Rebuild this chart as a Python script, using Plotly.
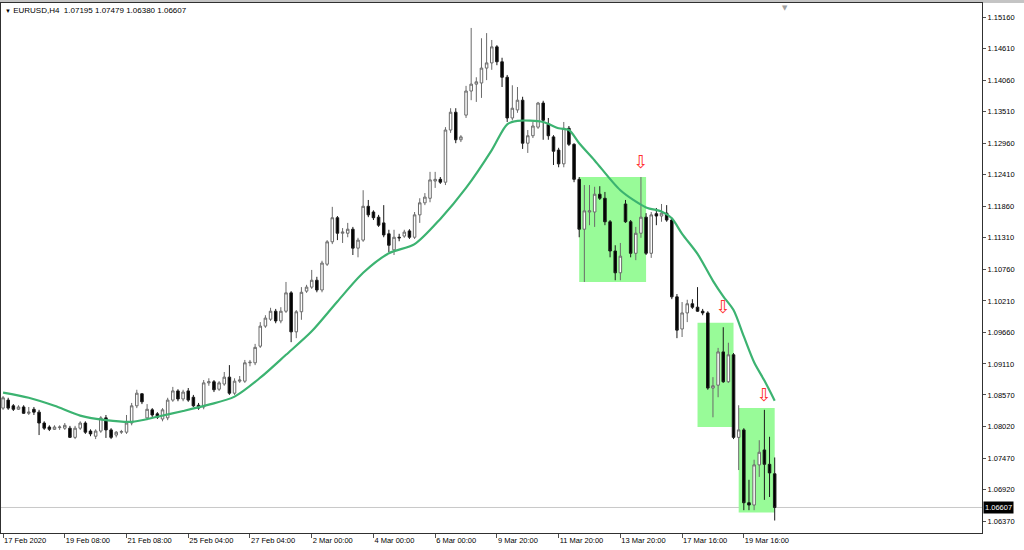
import plotly.graph_objects as go

# ---------------- data (EURUSD H4) ----------------
bar_index = list(range(151))

opens = [1.0834,1.0848,1.0838,1.0832,1.0836,1.0825,1.0832,1.0827,1.0808,1.0801,
         1.0797,1.0800,1.0799,1.0799,1.0783,1.0799,1.0808,1.0794,1.0785,1.0794,
         1.0817,1.0796,1.0787,1.0792,1.0792,1.0808,1.0838,1.0859,1.0817,1.0831,
         1.0824,1.0815,1.0817,1.0848,1.0864,1.0850,1.0864,1.0853,1.0839,1.0836,
         1.0878,1.0880,1.0867,1.0876,1.0888,1.0860,1.0881,1.0881,1.0913,1.0913,
         1.0942,1.0977,1.0989,1.1003,1.0986,1.1003,1.1035,1.0967,1.1002,1.1038,
         1.1045,1.1057,1.1040,1.1085,1.1124,1.1166,1.1139,1.1139,1.1146,1.1113,
         1.1127,1.1186,1.1176,1.1167,1.1157,1.1138,1.1110,1.1132,1.1134,1.1143,
         1.1132,1.1171,1.1192,1.1200,1.1230,1.1233,1.1228,1.1319,1.1350,1.1302,
         1.1345,1.1387,1.1399,1.1401,1.1427,1.1436,1.1464,1.1438,1.1411,1.1340,
         1.1354,1.1371,1.1296,1.1309,1.1324,1.1366,1.1329,1.1307,1.1284,1.1260,
         1.1322,1.1294,1.1233,1.1146,1.1176,1.1176,1.1207,1.1200,1.1159,1.1108,
         1.1070,1.1190,1.1159,1.1104,1.1139,1.1167,1.1104,1.1173,1.1169,1.1174,
         1.1162,1.1028,1.0972,1.1000,1.1016,1.1010,1.1003,1.1000,1.0869,1.0874,
         1.0932,1.0880,1.0927,1.0783,1.0796,1.0669,1.0665,1.0735,1.0761,1.0736,
         1.07195]

highs = [1.0855,1.0852,1.0841,1.0839,1.0839,1.0836,1.0836,1.0831,1.0811,1.0804,
         1.0804,1.0804,1.0808,1.0803,1.0803,1.0811,1.0811,1.0797,1.0797,1.0820,
         1.0822,1.0799,1.0794,1.0796,1.0822,1.0843,1.0866,1.0860,1.0841,1.0834,
         1.0827,1.0834,1.0852,1.0871,1.0867,1.0866,1.0869,1.0857,1.0843,1.0883,
         1.0886,1.0883,1.0881,1.0897,1.0909,1.0886,1.0890,1.0918,1.0918,1.0946,
         1.0984,1.0996,1.1009,1.1007,1.1010,1.1054,1.1038,1.1005,1.1045,1.1049,
         1.1075,1.1063,1.1091,1.1127,1.1185,1.1169,1.1148,1.1157,1.1150,1.1131,
         1.1214,1.1197,1.1179,1.1171,1.1188,1.1145,1.1145,1.1138,1.1145,1.1146,
         1.1176,1.1200,1.1209,1.1246,1.1246,1.1237,1.1324,1.1357,1.1357,1.1310,
         1.1396,1.1497,1.1411,1.1479,1.1488,1.1476,1.1467,1.1445,1.1415,1.1397,
         1.1394,1.1377,1.1319,1.1333,1.1368,1.1370,1.1340,1.1310,1.1288,1.1333,
         1.1326,1.1296,1.1237,1.1223,1.1223,1.1220,1.1221,1.1211,1.1162,1.1118,
         1.1122,1.1197,1.1162,1.1150,1.1237,1.1174,1.1176,1.1183,1.1190,1.1188,
         1.1166,1.1033,1.1019,1.1023,1.1024,1.1045,1.1007,1.1003,1.0888,1.0939,
         1.0975,1.0948,1.0930,1.0839,1.0799,1.0709,1.0744,1.0778,1.0831,1.0784,
         1.07479]

lows = [1.0831,1.0831,1.0829,1.0831,1.0824,1.0822,1.0822,1.0787,1.0796,1.0794,
        1.0796,1.0796,1.0796,1.0782,1.0780,1.0796,1.0789,1.0785,1.0780,1.0791,
        1.0782,1.0780,1.0783,1.0789,1.0789,1.0804,1.0834,1.0841,1.0813,1.0818,
        1.0815,1.0811,1.0813,1.0845,1.0846,1.0846,1.0845,1.0836,1.0831,1.0832,
        1.0873,1.0862,1.0864,1.0873,1.0857,1.0857,1.0878,1.0878,1.0907,1.0909,
        1.0939,1.0974,1.0986,1.0982,1.0982,1.1000,1.0949,1.0956,1.0988,1.1035,
        1.1042,1.1036,1.1036,1.1082,1.1120,1.1127,1.1122,1.1132,1.1101,1.1097,
        1.1124,1.1167,1.1162,1.1150,1.1132,1.1106,1.1101,1.1125,1.1131,1.1129,
        1.1129,1.1157,1.1188,1.1193,1.1218,1.1225,1.1223,1.1314,1.1296,1.1298,
        1.1340,1.1371,1.1368,1.1375,1.1406,1.1424,1.1432,1.1394,1.1333,1.1336,
        1.1349,1.1286,1.1279,1.1305,1.1321,1.1302,1.1302,1.1258,1.1254,1.1254,
        1.1291,1.1228,1.1132,1.1054,1.1153,1.1150,1.1197,1.1153,1.1097,1.1057,
        1.1057,1.1157,1.1097,1.1092,1.1131,1.1101,1.1096,1.1153,1.1159,1.1159,
        1.1024,1.0956,1.0958,1.0984,1.1007,1.1002,1.0996,1.0866,1.0818,1.0853,
        1.0878,1.0878,1.0780,1.0726,1.0656,1.0656,1.0656,1.0714,1.0674,1.0679,
        1.06380]

closes = [1.0852,1.0834,1.0832,1.0836,1.0825,1.0827,1.0827,1.0808,1.0799,1.0797,
          1.0801,1.0801,1.0804,1.0783,1.0799,1.0808,1.0792,1.0789,1.0794,1.0817,
          1.0796,1.0783,1.0792,1.0793,1.0808,1.0838,1.0860,1.0845,1.0832,1.0822,
          1.0818,1.0831,1.0848,1.0864,1.0850,1.0862,1.0848,1.0838,1.0834,1.0878,
          1.0880,1.0866,1.0878,1.0888,1.0860,1.0881,1.0883,1.0913,1.0914,1.0940,
          1.0977,1.0991,1.1003,1.0986,1.1003,1.1035,1.0967,1.1002,1.1036,1.1045,
          1.1057,1.1040,1.1087,1.1124,1.1166,1.1139,1.1141,1.1146,1.1113,1.1127,
          1.1186,1.1171,1.1166,1.1153,1.1136,1.1118,1.1132,1.1131,1.1141,1.1132,
          1.1171,1.1192,1.1202,1.1232,1.1233,1.1228,1.1319,1.1350,1.1302,1.1307,
          1.1387,1.1399,1.1403,1.1427,1.1436,1.1464,1.1438,1.1411,1.1340,1.1357,
          1.1371,1.1296,1.1309,1.1326,1.1366,1.1336,1.1309,1.1282,1.1260,1.1322,
          1.1294,1.1233,1.1146,1.1178,1.1178,1.1207,1.1200,1.1159,1.1108,1.1070,
          1.1099,1.1159,1.1104,1.1139,1.1167,1.1104,1.1171,1.1169,1.1174,1.1162,
          1.1028,1.0970,1.1000,1.1016,1.1010,1.1003,1.1000,1.0869,1.0873,1.0932,
          1.0880,1.0927,1.0783,1.0796,1.0669,1.0665,1.0735,1.0757,1.0736,1.0721,
          1.06607]

# moving average read at sample bars
ma_bars = [0, 5, 10, 15, 20, 25, 30, 35, 40, 45, 50, 55, 60, 65, 70, 75, 80, 85, 90, 95,
           98, 100, 105, 108, 110, 112, 115, 120, 125, 128, 130, 132, 135, 138, 140, 142,
           144, 146, 148, 150]
ma_values = [1.0861, 1.0852, 1.0838, 1.0821, 1.0813, 1.0810, 1.0819, 1.0829, 1.0840, 1.0854,
             1.0887, 1.0927, 1.0968, 1.1020, 1.1070, 1.1104, 1.1120, 1.1164, 1.1218, 1.1284,
             1.1329, 1.1335, 1.1333, 1.1322, 1.1319, 1.1296, 1.1266, 1.1214, 1.1184, 1.1177,
             1.1165, 1.1138, 1.1103, 1.1056, 1.1029, 1.1005, 1.0959, 1.0914, 1.0882, 1.0847]

# time-axis labels
time_tick_bars = [0, 12, 24, 36, 48, 60, 72, 84, 96, 108, 120, 132, 144]
time_tick_labels = ["17 Feb 2020", "19 Feb 08:00", "21 Feb 08:00", "25 Feb 04:00",
                    "27 Feb 04:00", "2 Mar 00:00", "4 Mar 00:00", "6 Mar 00:00",
                    "9 Mar 20:00", "11 Mar 20:00", "13 Mar 20:00", "17 Mar 16:00",
                    "19 Mar 16:00"]

# price-axis labels
price_ticks = [1.15160, 1.14610, 1.14060, 1.13510, 1.12960, 1.12410, 1.11860, 1.11310,
               1.10760, 1.10210, 1.09660, 1.09110, 1.08570, 1.08020, 1.07470, 1.06920,
               1.06370]

# highlighted zones and signal arrows
zone_start = [112, 135, 143]
zone_end = [125, 142, 150]
zone_top = [1.1237, 1.0983, 1.0834]
zone_bottom = [1.1054, 1.0801, 1.0652]

arrow_bars = [124, 140, 148]
arrow_prices = [1.1260, 1.1007, 1.0855]

symbol = "EURUSD,H4"
last_price = closes[-1]

# ---------------- figure ----------------
FONT = "Liberation Sans"

fig = go.Figure()

fig.add_trace(go.Candlestick(
    x=bar_index, open=opens, high=highs, low=lows, close=closes,
    increasing=dict(line=dict(color="#6a6a6a", width=1), fillcolor="#ffffff"),
    decreasing=dict(line=dict(color="#1a1a1a", width=1), fillcolor="#000000"),
    whiskerwidth=0, showlegend=False, hoverinfo="skip",
))

fig.add_trace(go.Scatter(
    x=ma_bars, y=ma_values, mode="lines",
    line=dict(color="#3cb371", width=2.2, shape="spline", smoothing=0.8),
    showlegend=False, hoverinfo="skip",
))

fig.add_trace(go.Scatter(
    x=arrow_bars, y=arrow_prices, mode="text", text=["⇩"] * len(arrow_bars),
    textfont=dict(family="DejaVu Sans", size=18, color="#ff3030"),
    textposition="middle center", showlegend=False, hoverinfo="skip",
))

shapes = []
for x0, x1, yt, yb in zip(zone_start, zone_end, zone_top, zone_bottom):
    shapes.append(dict(type="rect", xref="x", yref="y", x0=x0, x1=x1, y0=yb, y1=yt,
                       fillcolor="#98fb98", line=dict(width=0), layer="below"))
shapes.append(dict(type="line", xref="paper", yref="y", x0=0, x1=1,
                   y0=last_price, y1=last_price,
                   line=dict(color="#c8c8c8", width=1), layer="below"))
# thin grey window strip above the chart frame
shapes.append(dict(type="rect", xref="paper", yref="paper", x0=-0.002, x1=1.05,
                   y0=1.0, y1=1.006, fillcolor="#c4c4c4", line=dict(width=0),
                   layer="below"))

annotations = [
    dict(xref="paper", yref="paper", x=0, y=1, xanchor="left", yanchor="top",
         xshift=2, yshift=-1, showarrow=False,
         text="<span style='font-size:6px'>▼</span> " + symbol + "&nbsp;&nbsp;"
              + f"{opens[-1]:.5f} {highs[-1]:.5f} {lows[-1]:.5f} {closes[-1]:.5f}",
         font=dict(family=FONT, size=8, color="#000000")),
    dict(xref="paper", yref="y", x=1, y=last_price, xanchor="left", yanchor="middle",
         xshift=1, showarrow=False, text=f"{last_price:.5f}", bgcolor="#000000",
         borderpad=1, font=dict(family=FONT, size=7.5, color="#ffffff")),
    dict(xref="paper", yref="paper", x=0.7995, y=1, xanchor="center", yanchor="top",
         yshift=1, showarrow=False, text="▼",
         font=dict(family="DejaVu Sans", size=7, color="#a0a0a0")),
]

fig.update_layout(
    width=1024, height=550,
    margin=dict(l=1, r=42, t=3, b=17),
    paper_bgcolor="#ffffff", plot_bgcolor="#ffffff",
    font=dict(family=FONT, size=7.5, color="#000000"),
    shapes=shapes, annotations=annotations,
    showlegend=False,
    xaxis=dict(
        range=[-0.4, 190.3], rangeslider=dict(visible=False),
        showgrid=False, zeroline=False,
        showline=True, mirror=True, linecolor="#303030", linewidth=1,
        ticks="outside", ticklen=4, tickcolor="#505050",
        tickvals=time_tick_bars, ticktext=time_tick_labels,
        ticklabelposition="outside right",
        tickfont=dict(family=FONT, size=7.5, color="#000000"),
    ),
    yaxis=dict(
        side="right", range=[1.06162, 1.15405],
        showgrid=False, zeroline=False,
        showline=True, mirror=True, linecolor="#303030", linewidth=1,
        ticks="outside", ticklen=3, tickcolor="#505050",
        tickvals=price_ticks, ticktext=[f"{v:.5f}" for v in price_ticks],
        tickfont=dict(family=FONT, size=7.5, color="#000000"),
    ),
)

fig.write_html(
    "out.html",
    config={"displayModeBar": False},
    post_script="document.body.style.margin='0';document.body.style.overflow='hidden';",
)
